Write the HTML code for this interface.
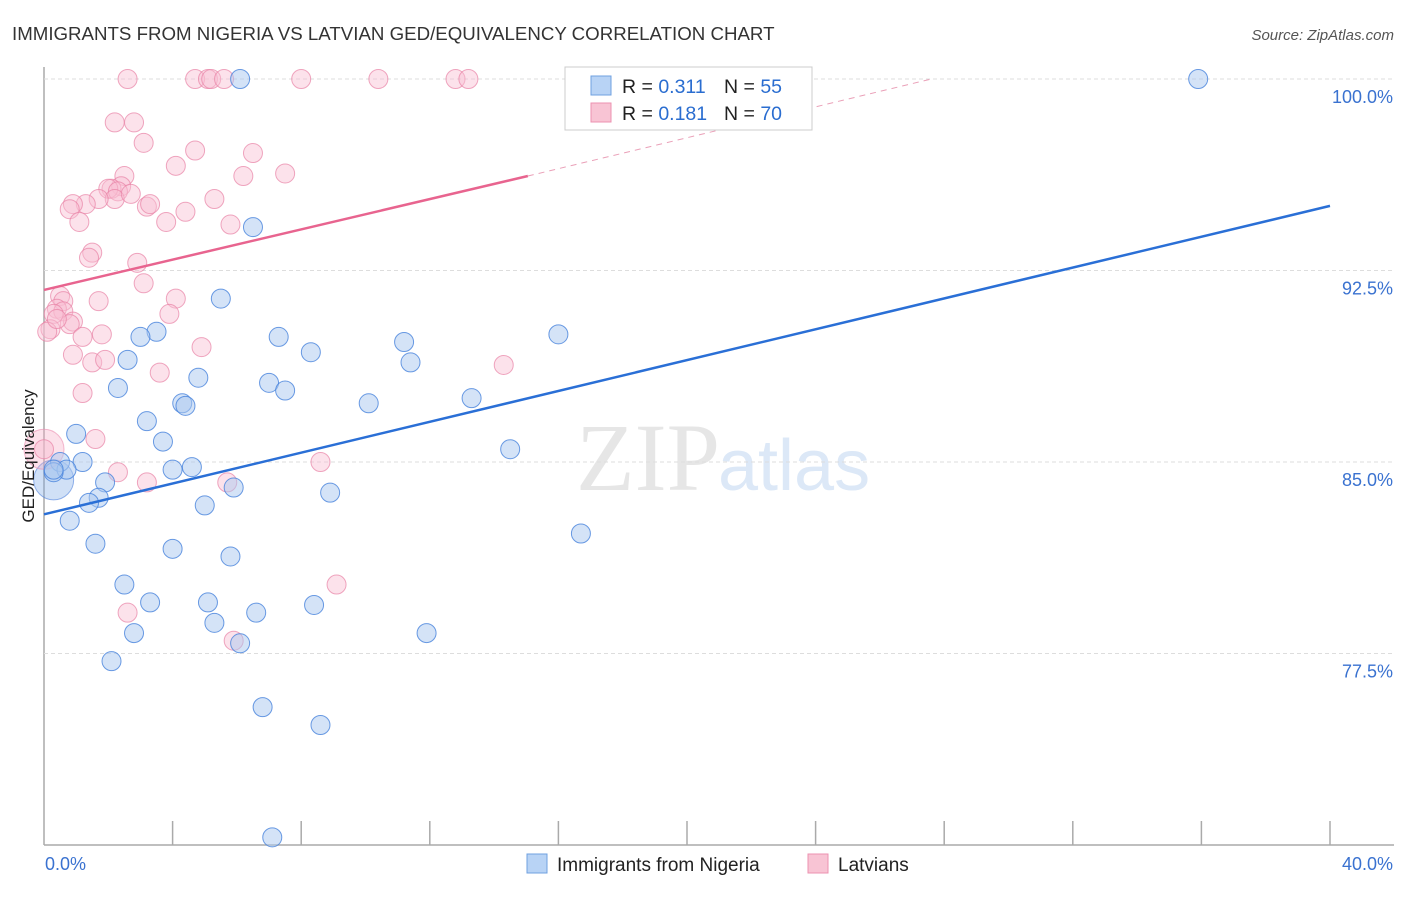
<!DOCTYPE html>
<html><head><meta charset="utf-8"><style>
body{margin:0;background:#fff;font-family:"Liberation Sans",sans-serif}
</style></head><body>
<svg id="c" width="1406" height="892" xmlns="http://www.w3.org/2000/svg">
<text x="12" y="40" font-size="18.7" fill="#333">IMMIGRANTS FROM NIGERIA VS LATVIAN GED/EQUIVALENCY CORRELATION CHART</text>
<text x="1394" y="40" font-size="15" fill="#555" font-style="italic" text-anchor="end">Source: ZipAtlas.com</text>
<text x="720" y="490" font-size="96" fill="#e6e6e6" text-anchor="end" font-family="Liberation Serif">ZIP</text>
<text x="718" y="490" font-size="72" fill="#dce8f7">atlas</text>
<g id="grid"></g><g id="pts"></g><g id="lines"></g>
<text transform="translate(34,456) rotate(-90)" font-size="17" fill="#222" text-anchor="middle">GED/Equivalency</text>
<g>
<rect x="565" y="67" width="247" height="63" fill="#fff" stroke="#ccc"/>
<rect x="591" y="76" width="20" height="19" fill="#b8d3f5" stroke="#6fa0e0"/>
<rect x="591" y="103" width="20" height="19" fill="#f8c4d4" stroke="#ec92b0"/>
<text x="622" y="93" font-size="19.5" fill="#222">R = <tspan fill="#2a6dd0">0.311</tspan></text>
<text x="724" y="93" font-size="19.5" fill="#222">N = <tspan fill="#2a6dd0">55</tspan></text>
<text x="622" y="120" font-size="19.5" fill="#222">R = <tspan fill="#2a6dd0">0.181</tspan></text>
<text x="724" y="120" font-size="19.5" fill="#222">N = <tspan fill="#2a6dd0">70</tspan></text>
</g>
<g>
<rect x="527" y="854" width="20" height="19" fill="#b8d3f5" stroke="#6fa0e0"/>
<text x="557" y="871" font-size="19" fill="#222">Immigrants from Nigeria</text>
<rect x="808" y="854" width="20" height="19" fill="#f8c4d4" stroke="#ec92b0"/>
<text x="838" y="871" font-size="19" fill="#222">Latvians</text>
</g>
</svg>
<script>
const xTicks=[0,4,8,12,16,20,24,28,32,36,40];
const yTicks=[77.5,85,92.5,100];
const blueX=[6.1,35.9,6.5,5.5,16.0,3.5,3.0,7.3,11.2,8.3,2.6,11.4,4.8,7.0,2.3,7.5,10.1,13.3,4.3,4.4,3.2,1.0,3.7,14.5,1.2,4.0,4.6,0.5,0.7,0.3,0.3,1.9,5.9,8.9,1.7,1.4,5.0,0.8,16.7,1.6,4.0,5.8,2.5,3.3,5.1,6.6,8.4,5.3,2.8,6.1,11.9,2.1,6.8,8.6,7.1];
const blueY=[100,100,94.2,91.4,90.0,90.1,89.9,89.9,89.7,89.3,89.0,88.9,88.3,88.1,87.9,87.8,87.3,87.5,87.3,87.2,86.6,86.1,85.8,85.5,85.0,84.7,84.8,85.0,84.7,84.6,84.7,84.2,84.0,83.8,83.6,83.4,83.3,82.7,82.2,81.8,81.6,81.3,80.2,79.5,79.5,79.1,79.4,78.7,78.3,77.9,78.3,77.2,75.4,74.7,70.3];
const pinkX=[2.6,4.7,5.1,5.2,5.6,8.0,10.4,12.8,13.2,2.2,2.8,3.1,4.7,6.5,4.1,7.5,6.2,2.5,2.4,2.1,2.0,2.3,2.2,2.7,3.2,3.3,5.3,1.7,1.3,0.9,0.8,1.1,3.8,4.4,5.8,1.5,1.4,2.9,3.1,4.1,0.5,0.6,1.7,0.4,0.6,0.3,3.9,0.9,0.8,1.2,1.8,4.9,0.9,1.5,1.9,3.6,1.2,14.3,1.6,0.0,2.3,3.2,8.6,5.7,9.1,2.6,5.9,0.2,0.1,0.4];
const pinkY=[100,100,100,100,100,100,100,100,100,98.3,98.3,97.5,97.2,97.1,96.6,96.3,96.2,96.2,95.8,95.7,95.7,95.6,95.3,95.5,95.0,95.1,95.3,95.3,95.1,95.1,94.9,94.4,94.4,94.8,94.3,93.2,93.0,92.8,92.0,91.4,91.5,91.3,91.3,91.0,90.9,90.8,90.8,90.5,90.4,89.9,90.0,89.5,89.2,88.9,89.0,88.5,87.7,88.8,85.9,85.5,84.6,84.2,85.0,84.2,80.2,79.1,78.0,90.2,90.1,90.6];
const bigBlue=[0.3,84.3,20];const bigPink=[0.0,85.5,20];
const blueTrend=[[0,82.95],[40,95.03]];
const pinkTrend=[[0,91.74],[15.05,96.2]];
const pinkDash=[[15.05,96.2],[27.6,100]];
const L=44,R=1330,T=79,B=845;
const sx=v=>L+(v/40)*(R-L);
const sy=v=>T+(100-v)*(191.5/7.5);
const NS='http://www.w3.org/2000/svg';
function mk(tag,attrs,parent){const e=document.createElementNS(NS,tag);for(const k in attrs)e.setAttribute(k,attrs[k]);document.getElementById(parent).appendChild(e);return e;}
let ax=mk('line',{x1:L,y1:67,x2:L,y2:B,stroke:'#aaa','stroke-width':1.5},'grid');


let bx=mk('line',{x1:L,y1:B,x2:1394,y2:B,stroke:'#aaa','stroke-width':1.5},'grid');


xTicks.forEach((t,i)=>{if(i===0)return;const e=mk('line',{x1:sx(t),y1:B-24,x2:sx(t),y2:B,stroke:'#aaa','stroke-width':1.5},'grid');

});
yTicks.forEach(t=>{const g=mk('line',{x1:L,y1:sy(t),x2:1394,y2:sy(t),stroke:'#ddd','stroke-dasharray':'4,3'},'grid');


const tx=mk('text',{x:1393,y:sy(t)+24,'font-size':18,fill:'#3a72d0','text-anchor':'end'},'grid');
tx.textContent=t.toFixed(1)+'%';

});
let x0=mk('text',{x:45,y:870,'font-size':18,fill:'#3a72d0'},'grid');x0.textContent=xTicks[0].toFixed(1)+'%';


let x1=mk('text',{x:1393,y:870,'font-size':18,fill:'#3a72d0','text-anchor':'end'},'grid');x1.textContent=xTicks[xTicks.length-1].toFixed(1)+'%';


const bc=mk('circle',{cx:sx(bigBlue[0]),cy:sy(bigBlue[1]),r:bigBlue[2],fill:'rgba(120,165,230,0.35)',stroke:'rgba(80,130,220,0.6)'},'pts');


const pc=mk('circle',{cx:sx(bigPink[0]),cy:sy(bigPink[1]),r:bigPink[2],fill:'rgba(245,170,195,0.35)',stroke:'rgba(235,140,175,0.6)'},'pts');


pinkX.forEach((v,i)=>{const c=mk('circle',{cx:sx(v),cy:sy(pinkY[i]),r:9.5,fill:'rgba(248,190,210,0.45)',stroke:'rgba(232,130,165,0.7)','stroke-width':1},'pts');

});
blueX.forEach((v,i)=>{const c=mk('circle',{cx:sx(v),cy:sy(blueY[i]),r:9.5,fill:'rgba(170,200,240,0.5)',stroke:'rgba(70,130,220,0.8)','stroke-width':1},'pts');

});
let l1=mk('line',{x1:sx(blueTrend[0][0]),y1:sy(blueTrend[0][1]),x2:sx(blueTrend[1][0]),y2:sy(blueTrend[1][1]),stroke:'#2a6fd6','stroke-width':2.5},'lines');


let l2=mk('line',{x1:sx(pinkTrend[0][0]),y1:sy(pinkTrend[0][1]),x2:sx(pinkTrend[1][0]),y2:sy(pinkTrend[1][1]),stroke:'#e8648f','stroke-width':2.5},'lines');


let l3=mk('line',{x1:sx(pinkDash[0][0]),y1:sy(pinkDash[0][1]),x2:sx(pinkDash[1][0]),y2:sy(pinkDash[1][1]),stroke:'#eaa0b8','stroke-width':1,'stroke-dasharray':'6,5'},'lines');


</script>
</body></html>
